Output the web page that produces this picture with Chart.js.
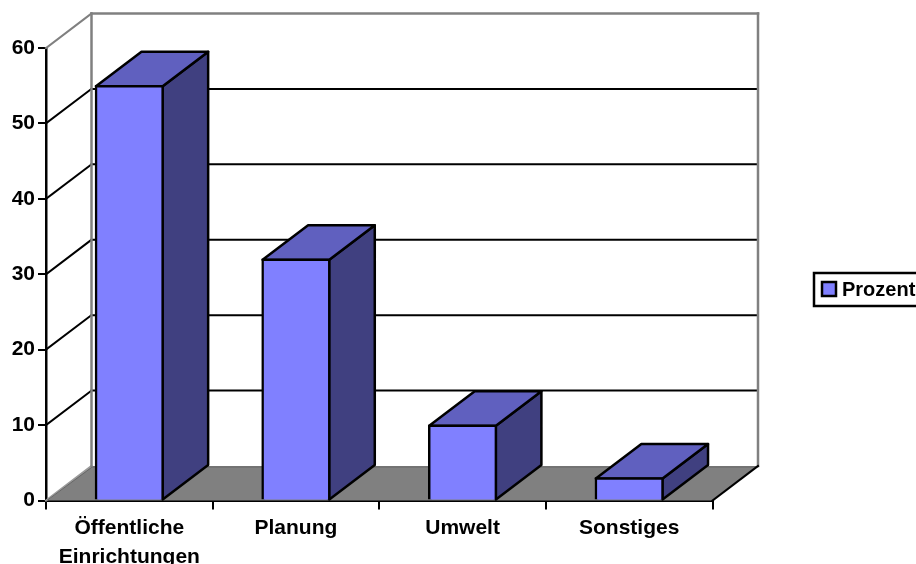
<!DOCTYPE html>
<html lang="de">
<head>
<meta charset="utf-8">
<title>Prozent</title>
<style>
  html, body { margin: 0; padding: 0; background: #fff; overflow: hidden; }
  #wrap { width: 916px; height: 564px; }
</style>
<script src="https://cdn.jsdelivr.net/npm/chart.js@4"></script>
</head>
<body>
<div id="wrap"><canvas id="chart" width="916" height="564"></canvas></div>
<script>
const categories = [['Öffentliche', 'Einrichtungen'], 'Planung', 'Umwelt', 'Sonstiges'];
const seriesName = 'Prozent';
const values = [55, 32, 10, 3];
const axisMax = 60;
const axisStep = 10;

const FAMILY = '"Liberation Sans", Arial, sans-serif';
const FRONT = '#8080FF', TOP = '#6060BF', SIDE = '#404080', WALL = '#808080', FLOOR_EDGE = '#666666';
const DX = 45.5, DY = 34.5;   // oblique depth of the pseudo-3D box
const EDGE = 2.5;             // outline width of the columns
const INFLATE = 0.6;          // outward shift of the bar outline
const INSET = EDGE / 2 - INFLATE;   // distance from a bar's value edge to its outline centre

function poly(ctx, pts, fill, stroke, width) {
  ctx.beginPath();
  pts.forEach((p, i) => i ? ctx.lineTo(p[0], p[1]) : ctx.moveTo(p[0], p[1]));
  ctx.closePath();
  if (fill) { ctx.fillStyle = fill; ctx.fill(); }
  if (stroke) { ctx.strokeStyle = stroke; ctx.lineWidth = width; ctx.lineJoin = 'round'; ctx.stroke(); }
}
function seg(ctx, x1, y1, x2, y2, color, width) {
  ctx.beginPath(); ctx.moveTo(x1, y1); ctx.lineTo(x2, y2);
  ctx.strokeStyle = color; ctx.lineWidth = width; ctx.lineCap = 'square'; ctx.stroke();
}

// Back wall, side wall, floor and receding gridlines, placed from the scales.
const roomPlugin = {
  id: 'room',
  beforeDatasetsDraw(chart) {
    const { ctx, chartArea: a, scales: { y } } = chart;
    ctx.save();
    const b = y.getPixelForValue(0), t = y.getPixelForValue(axisMax);
    poly(ctx, [[a.left, b], [a.left + DX, b - DY], [a.right + DX, b - DY], [a.right, b]], WALL);
    y.ticks.forEach(tk => {
      if (tk.value === 0 || tk.value === axisMax) return;
      const py = y.getPixelForValue(tk.value);
      seg(ctx, a.left, py, a.left + DX, py - DY, '#000', 2);
      seg(ctx, a.left + DX, py - DY, a.right + DX, py - DY, '#000', 2);
    });
    seg(ctx, a.left, b, a.left + DX, b - DY, '#9a9a9a', 2);
    seg(ctx, a.left + 1, b, a.left + DX, b - DY + 1.5, FLOOR_EDGE, 1);
    seg(ctx, a.left + DX, b - DY + 1, a.right + DX - 1, b - DY + 1, FLOOR_EDGE, 1);
    seg(ctx, a.left, t, a.left + DX, t - DY, WALL, 2);
    seg(ctx, a.left + DX, t - DY, a.right + DX, t - DY, WALL, 2.5);
    seg(ctx, a.left + DX, t - DY, a.left + DX, b - DY, WALL, 2.5);
    seg(ctx, a.right + DX, t - DY, a.right + DX, b - DY, WALL, 2.5);
    seg(ctx, a.right, b, a.right + DX, b - DY, '#000', 2);
    // Top and side faces of each column, extending the bars the library lays out.
    chart.getDatasetMeta(0).data.forEach(el => {
      const hw = el.width / 2 - INSET, l = el.x - hw, r = el.x + hw, top = el.y + INSET;
      poly(ctx, [[r, top], [r + DX, top - DY], [r + DX, el.base - DY], [r, el.base]], SIDE, '#000', EDGE);
      poly(ctx, [[l, top], [l + DX, top - DY], [r + DX, top - DY], [r, top]], TOP, '#000', EDGE);
    });
    ctx.restore();
  },
  // Framed legend that runs off the right edge of the page.
  afterDraw(chart) {
    const { ctx } = chart;
    const ds = chart.data.datasets[0];
    ctx.save();
    ctx.strokeStyle = '#000';
    ctx.lineWidth = 2.5;
    ctx.strokeRect(814, 273, 110, 33);
    ctx.fillStyle = ds.backgroundColor;
    ctx.fillRect(822, 282, 14, 14);
    ctx.strokeRect(822, 282, 14, 14);
    ctx.fillStyle = '#000';
    ctx.font = 'bold 20px ' + FAMILY;
    ctx.textBaseline = 'middle';
    ctx.textAlign = 'left';
    ctx.fillText(ds.label, 842, 290);
    ctx.restore();
  }
};

new Chart(document.getElementById('chart'), {
  type: 'bar',
  data: {
    labels: categories,
    datasets: [{
      label: seriesName,
      data: values,
      backgroundColor: FRONT,
      borderColor: '#000',
      borderWidth: EDGE,
      inflateAmount: INFLATE,
      borderSkipped: 'start',
      barPercentage: 0.408,
      categoryPercentage: 1
    }]
  },
  options: {
    responsive: false,
    animation: false,
    devicePixelRatio: 1,
    layout: { padding: { left: 0, top: 48, right: 203.5, bottom: 0 } },
    plugins: { legend: { display: false }, tooltip: { enabled: false } },
    scales: {
      x: {
        z: 1,
        afterFit(s) { s.height = 63.5; },
        border: { color: '#000', width: 3 },
        grid: { drawOnChartArea: false, color: '#000', lineWidth: 2, tickLength: 9, tickWidth: 2, tickColor: '#000' },
        ticks: { color: '#000', font: { family: FAMILY, weight: 'bold', size: 21, lineHeight: 1.4 }, padding: 4, maxRotation: 0, autoSkip: false }
      },
      y: {
        min: 0, max: axisMax,
        afterFit(s) { s.width = 46; },
        border: { color: '#000', width: 2.5 },
        grid: { drawOnChartArea: false, color: '#000', lineWidth: 2, tickLength: 8, tickWidth: 2, tickColor: '#000' },
        ticks: { stepSize: axisStep, color: '#000', font: { family: FAMILY, weight: 'bold', size: 21 }, padding: 3 }
      }
    }
  },
  plugins: [roomPlugin]
});
</script>
</body>
</html>
